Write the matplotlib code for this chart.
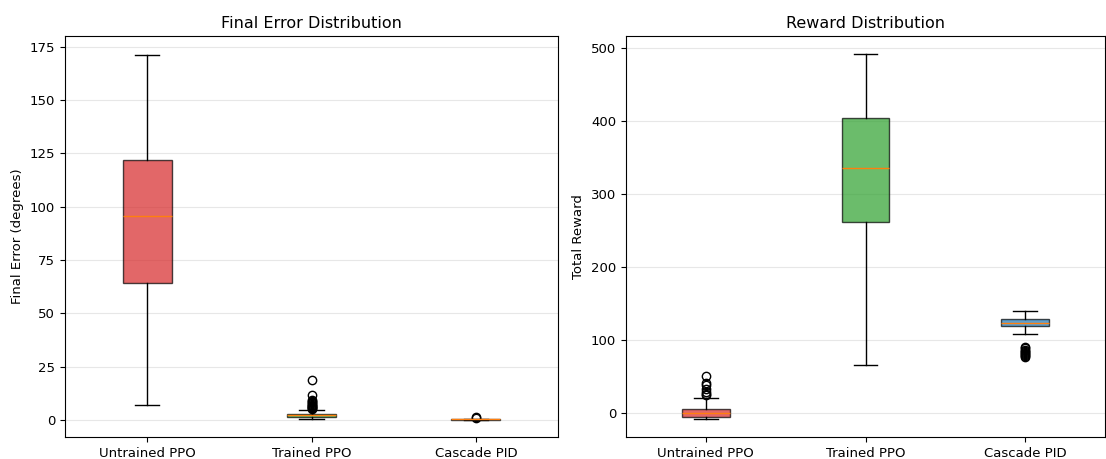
import numpy as np
import matplotlib
matplotlib.use("Agg")
import matplotlib.pyplot as plt

plt.rcParams['font.size'] = 9.5

labels = ['Untrained PPO', 'Trained PPO', 'Cascade PID']
colors = ['#d62728', '#2ca02c', '#1f77b4']

# final error (degrees): whislo, q1, med, q3, whishi, fliers
err_whislo = [7.0, 0.6, 0.05]
err_q1 = [64.3, 1.6, 0.15]
err_med = [95.7, 2.2, 0.3]
err_q3 = [122.0, 2.9, 0.45]
err_whishi = [171.3, 4.5, 0.6]
err_fliers = [[], [18.8, 11.6, 9.5, 8.8, 8.3, 7.8, 7.4, 7.0, 6.6, 6.3, 6.0, 5.7, 5.5, 5.1],
              [0.9, 1.2]]

# total reward
rew_whislo = [-8.0, 66.0, 108.5]
rew_q1 = [-5.5, 262.0, 119.5]
rew_med = [0.0, 336.5, 123.6]
rew_q3 = [5.5, 405.0, 128.5]
rew_whishi = [20.6, 492.0, 140.0]
rew_fliers = [[51.0, 41.0, 38.0, 33.0, 29.0, 26.0, 24.0], [],
              [91.0, 89.0, 87.0, 85.5, 84.0, 82.5, 81.0, 79.5, 78.0, 77.0]]


def make_stats(lo, q1, med, q3, hi, fl):
    stats = []
    for i in range(len(labels)):
        stats.append(dict(label=labels[i], whislo=lo[i], q1=q1[i], med=med[i],
                          q3=q3[i], whishi=hi[i], fliers=fl[i]))
    return stats


def draw(ax, stats, title, ylabel):
    bp = ax.bxp(stats, patch_artist=True, widths=0.3)
    for patch, c in zip(bp['boxes'], colors):
        patch.set_facecolor(c)
        patch.set_alpha(0.7)
    ax.set_title(title, fontsize=11.5)
    ax.set_ylabel(ylabel)
    ax.grid(True, axis='y', alpha=0.3)


fig = plt.figure(figsize=(11.06, 4.59), dpi=100)
ax1 = fig.add_axes([65 / 1106, 22 / 459, 493 / 1106, 401 / 459])
ax2 = fig.add_axes([626 / 1106, 22 / 459, 479 / 1106, 401 / 459])

draw(ax1, make_stats(err_whislo, err_q1, err_med, err_q3, err_whishi, err_fliers),
     'Final Error Distribution', 'Final Error (degrees)')
ax1.set_ylim(-8, 180)

draw(ax2, make_stats(rew_whislo, rew_q1, rew_med, rew_q3, rew_whishi, rew_fliers),
     'Reward Distribution', 'Total Reward')
ax2.set_ylim(-33, 517)

fig.savefig('out.png', dpi=100)
